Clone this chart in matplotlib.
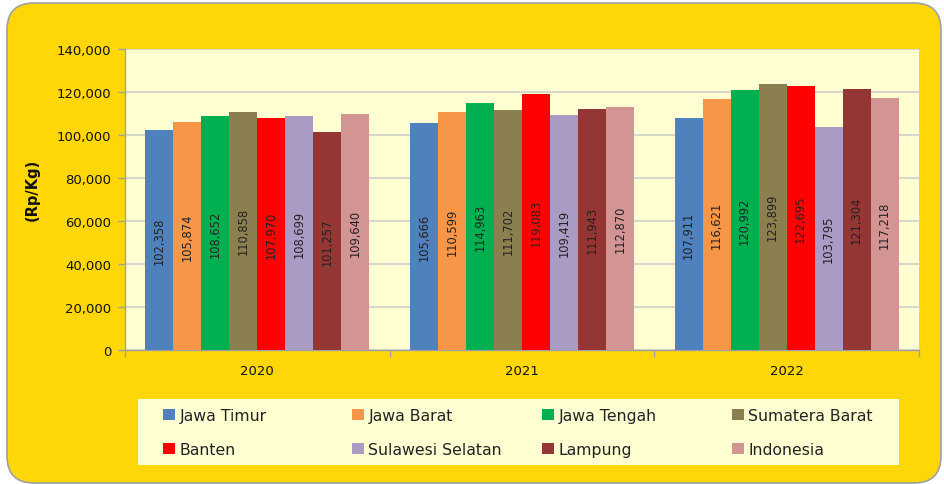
import matplotlib
matplotlib.use("Agg")
import matplotlib.pyplot as plt
import numpy as np
from matplotlib.patches import FancyBboxPatch, Rectangle, Patch

years = ["2020", "2021", "2022"]
series = ["Jawa Timur", "Jawa Barat", "Jawa Tengah", "Sumatera Barat",
          "Banten", "Sulawesi Selatan", "Lampung", "Indonesia"]
jawa_timur = [102358, 105666, 107911]
jawa_barat = [105874, 110599, 116621]
jawa_tengah = [108652, 114963, 120992]
sumatera_barat = [110858, 111702, 123899]
banten = [107970, 119083, 122695]
sulawesi_selatan = [108699, 109419, 103795]
lampung = [101257, 111943, 121304]
indonesia = [109640, 112870, 117218]
values = [jawa_timur, jawa_barat, jawa_tengah, sumatera_barat,
          banten, sulawesi_selatan, lampung, indonesia]
colors = ["#4F81BD", "#F79646", "#00B050", "#8B7F4F",
          "#FF0000", "#A99BC3", "#943634", "#D39494"]
yticks = [0, 20000, 40000, 60000, 80000, 100000, 120000, 140000]

W, H = 944, 485
fig = plt.figure(figsize=(W / 100, H / 100), dpi=100)
fig.patch.set_facecolor("white")

# rounded yellow background (in inches)
bg = FancyBboxPatch((0.07, 0.01), 9.34, 4.80,
                    boxstyle="round,pad=0,rounding_size=0.27",
                    transform=fig.dpi_scale_trans, facecolor="#FFD707",
                    edgecolor="#A0A0A0", linewidth=1.2, zorder=-10)
fig.patches.append(bg)
# legend background
fig.patches.append(Rectangle((138 / W, 1 - 466 / H), (899 - 138) / W, (466 - 400) / H,
                             transform=fig.transFigure, facecolor="#FFFFD2",
                             edgecolor="none", zorder=-5))

ax = fig.add_axes([125 / W, 1 - 351 / H, (919 - 125) / W, (351 - 50) / H])
ax.set_facecolor("#FFFFD2")

n = len(series)
bw = 0.1058
x = np.arange(len(years))
for i, (name, vals, c) in enumerate(zip(series, values, colors)):
    xs = x + (i - (n - 1) / 2) * bw
    ax.bar(xs, vals, width=bw, color=c, edgecolor="none", zorder=3, label=name)
    for xi, v in zip(xs, vals):
        ax.text(xi, v / 2, f"{v:,}", rotation=90, ha="center", va="center",
                fontsize=8.3, color="#222222", zorder=4)

ax.set_xlim(-0.5, 2.5)
ax.set_ylim(0, 140000)
ax.set_yticks(yticks)
ax.set_yticklabels([f"{t:,}" for t in yticks], fontsize=9.5, color="#111111")
ax.set_xticks(x)
ax.set_xticklabels(years, fontsize=9.5, color="#111111")
ax.set_xticks([-0.5, 0.5, 1.5, 2.5], minor=True)
ax.tick_params(axis="x", which="major", length=0, pad=10)
ax.tick_params(axis="x", which="minor", length=5, color="#A0A0A0", width=1)
ax.tick_params(axis="y", length=5, color="#A0A0A0", width=1, pad=5)
ax.grid(axis="y", color="#D8D8CA", linewidth=1.5, zorder=0)
ax.set_axisbelow(True)
for s in ["top", "right"]:
    ax.spines[s].set_visible(False)
for s in ["left", "bottom"]:
    ax.spines[s].set_color("#A0A0A0")
    ax.spines[s].set_linewidth(1)

fig.text(32 / W, 1 - 190 / H, "(Rp/Kg)", rotation=90, ha="center", va="center",
         fontsize=10.5, fontweight="bold", color="#111111")

col_x = [163, 352, 542, 732]
for c in range(4):
    idx = [c, c + 4]
    handles = [Patch(facecolor=colors[k], edgecolor="none") for k in idx]
    leg = fig.legend(handles, [series[k] for k in idx], loc="center left",
                     bbox_to_anchor=(col_x[c] / W, 1 - 433.5 / H),
                     frameon=False, fontsize=11.3, handlelength=0.75, handleheight=0.75,
                     handletextpad=0.3, labelspacing=1.2, borderpad=0, borderaxespad=0)
    for t in leg.get_texts():
        t.set_color("#222222")

fig.savefig("out.png", dpi=100, facecolor=fig.get_facecolor())
